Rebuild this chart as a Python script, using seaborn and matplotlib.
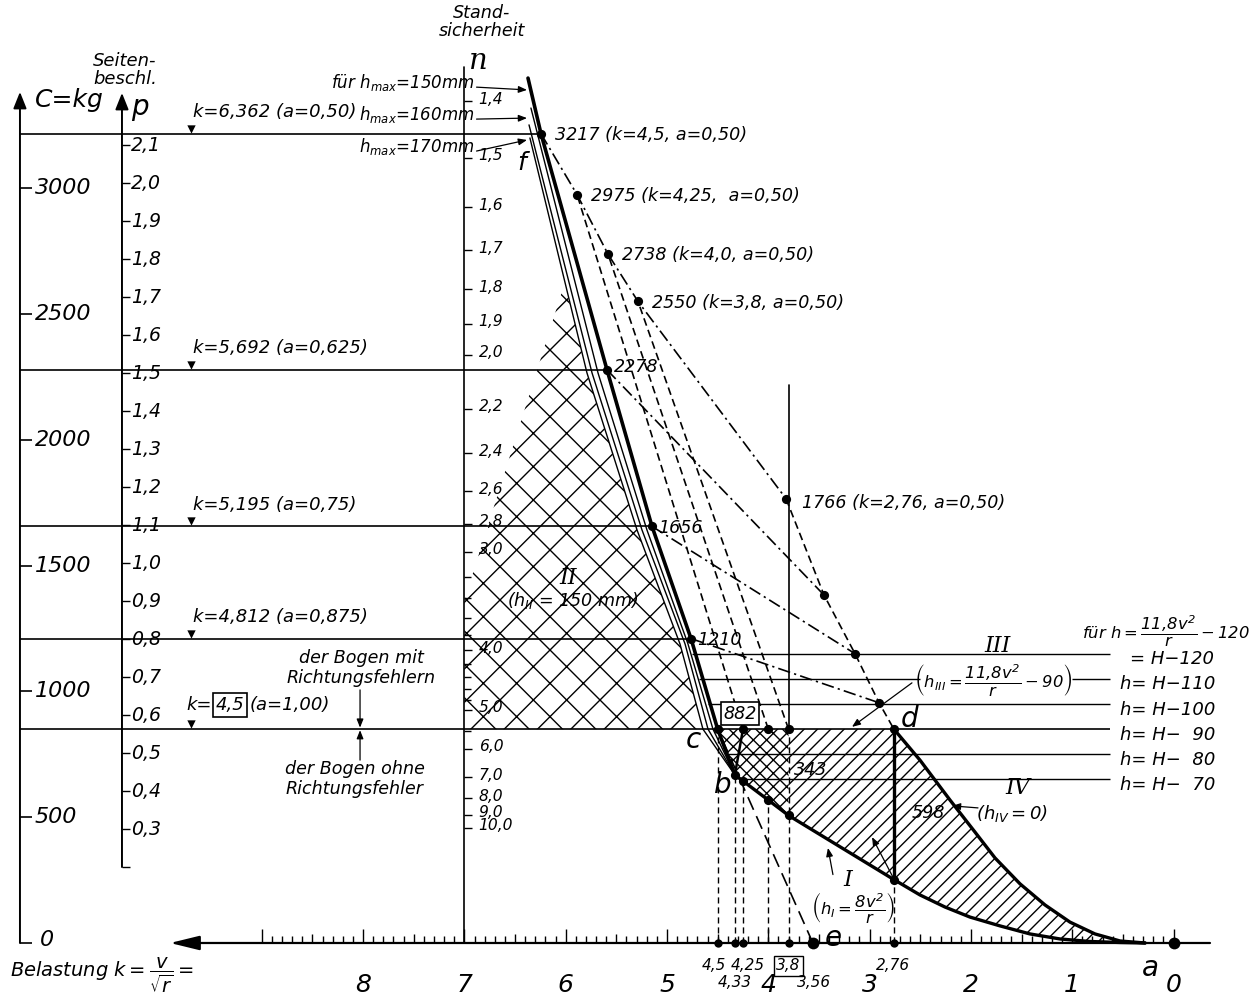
import numpy as np
import pandas as pd
import seaborn as sns
import matplotlib.pyplot as plt

# nomogram: x = load k (reversed), y = force C in kg
C_ticks = [500, 1000, 1500, 2000, 2500, 3000]
p_ticks = [0.2, 0.3, 0.4, 0.5, 0.6, 0.7, 0.8, 0.9, 1.0, 1.1, 1.2, 1.3, 1.4,
           1.5, 1.6, 1.7, 1.8, 1.9, 2.0, 2.1]
p_to_C = 1510  # kg per unit of p
n_ticks = [1.4, 1.5, 1.6, 1.7, 1.8, 1.9, 2.0, 2.2, 2.4, 2.6, 2.8, 3.0,
           4.0, 5.0, 6.0, 7.0, 8.0, 9.0, 10.0]
n_minor = [3.2, 3.4, 3.6, 3.8, 4.2, 4.4, 4.6, 4.8, 5.5]
k_numbers = [8, 7, 6, 5, 4, 3, 2, 1, 0]

# horizontal lines k = ... (a = ...)
level_C = [3217, 2278, 1656, 1210, 850]
level_end = [6.244, 5.592, 5.148, 4.763, 0.63]
level_txt = ['6,362 (a=0,50)', '5,692 (a=0,625)', '5,195 (a=0,75)', '4,812 (a=0,875)']

# h_max lines
f_k = [6.372, 6.244, 5.592, 5.148, 4.763, 4.5, 4.33]
f_C = [3438, 3217, 2278, 1656, 1210, 850, 668]
f160_k = [6.343, 5.681, 5.198, 4.793, 4.546, 4.33]
f160_C = [3319, 2266, 1642, 1189, 850, 668]
f170_k = [6.362, 5.740, 5.247, 4.822, 4.595, 4.33]
f170_C = [3252, 2266, 1642, 1189, 850, 668]
fx_k = [6.353, 5.790, 5.296, 4.872, 4.645, 4.33]
fx_C = [3200, 2266, 1642, 1189, 850, 668]

# curve a = 0.50
a50_k = [6.244, 5.888, 5.582, 5.286, 3.825]
a50_C = [3217, 2975, 2738, 2550, 1766]
a50_txt = ['3217 (k=4,5, a=0,50)', '2975 (k=4,25,  a=0,50)',
           '2738 (k=4,0, a=0,50)', '2550 (k=3,8, a=0,50)']
a50_low_k = [3.825, 3.450, 3.144, 2.907, 2.76]
a50_low_C = [1766, 1383, 1150, 955, 850]

# curve IV (h=0) and curve I (h=8v²/r)
IV_k = [2.76, 2.503, 2.206, 1.960, 1.762, 1.515, 1.268, 1.022, 0.775, 0.528, 0.281]
IV_C = [850, 727, 568, 441, 338, 235, 151, 83, 36, 8, 0]
I_k = [4.33, 4.25, 4.0, 3.8, 2.76, 2.503, 2.256, 2.009, 1.713, 1.417, 1.12,
       0.824, 0.528, 0.281]
I_C = [668, 644, 568, 507, 252, 191, 143, 103, 68, 36, 16, 6, 2, 0]

# h = H - ... lines
h_lab_C = [1150, 1050, 950, 850, 750, 650]
h_txt = ['= H−120', 'h= H−110', 'h= H−100', 'h= H−  90', 'h= H−  80', 'h= H−  70']

# hatched regions
II_k = [6.01, 5.79, 5.296, 4.872, 4.645, 7.0, 7.0]
II_C = [2624, 2266, 1642, 1189, 850, 850, 1363]
X_k = [4.5, 3.8, 3.8, 4.0, 4.25, 4.33]
X_C = [850, 850, 507, 568, 644, 668]

# points on the k axis
drop_k = [4.5, 4.33, 4.25, 4.0, 3.8, 2.76]
drop_C = [850, 668, 644, 568, 850, 252]
base_dots = [4.5, 4.33, 4.25, 3.8, 2.76, 0.0]
base_lab = ['4,5', '4,33', '4,25', '3,8', '3,56', '2,76']
base_lab_k = [4.54, 4.33, 4.20, 3.80, 3.55, 2.77]
base_lab_C = [-91, -159, -91, -91, -159, -91]
e_k = 3.56

sns.set_style('white')
plt.rcParams['font.family'] = ['DejaVu Sans']
plt.rcParams['font.style'] = 'italic'
plt.rcParams['text.color'] = 'black'
plt.rcParams['mathtext.fontset'] = 'dejavusans'
plt.rcParams['mathtext.default'] = 'it'
plt.rcParams['lines.scale_dashes'] = False
plt.rcParams['hatch.linewidth'] = 0.5
plt.rcParams['hatch.color'] = 'black'

fig = plt.figure(figsize=(6.285, 5), dpi=200)
ax = fig.add_axes([0, 0, 1, 1])
ax.set_xlim(11.584, -0.824)
ax.set_ylim(-226.6, 3748.4)
ax.axis('off')

K_C, K_P, K_N = 11.387, 10.38, 7.0
DASH = (0, (2.8, 1.6))
DASHDOT = (0, (4.5, 1.5, 0.8, 1.5))
head = dict(color='k', lw=0.7, shrinkA=0, shrinkB=0,
            arrowstyle='-|>,head_length=0.5,head_width=0.2', mutation_scale=10)
small = dict(color='k', lw=0.45, shrinkA=0, shrinkB=0,
             arrowstyle='-|>,head_length=0.5,head_width=0.2', mutation_scale=5)


def n_pos(n):
    return 4700.0 / n - 12


# ---- C scale
ax.annotate('', xy=(K_C, 3383), xytext=(K_C, 0), arrowprops=head)
ax.hlines(C_ticks + [0], K_C, K_C - 0.12, color='k', lw=0.6)
for c in C_ticks:
    ax.text(11.24, c, str(c), fontsize=8, va='center', ha='left')
ax.text(11.19, 10, '0', fontsize=8, va='center', ha='left')
ax.text(11.24, 3351, 'C=kg', fontsize=9, va='center', ha='left')

# ---- p scale
ax.annotate('', xy=(K_P, 3379), xytext=(K_P, 0.2 * p_to_C), arrowprops=head)
ax.hlines([p * p_to_C for p in p_ticks], K_P, K_P - 0.08, color='k', lw=0.5)
for p in p_ticks[1:]:
    ax.text(10.29, p * p_to_C, f'{p:.1f}'.replace('.', ','), fontsize=6.8,
            va='center', ha='left')
ax.text(10.35, 3470, 'Seiten-\nbeschl.', fontsize=6.5, ha='center', va='center',
        linespacing=1.0)
ax.text(10.2, 3323, 'p', fontsize=10, ha='center', va='center')

# ---- n scale
ax.plot([K_N, K_N], [0, 3482], color='k', lw=0.6)
ax.hlines([n_pos(n) for n in n_ticks], K_N, K_N - 0.08, color='k', lw=0.5)
ax.hlines([n_pos(n) for n in n_minor], K_N, K_N - 0.07, color='k', lw=0.5)
for n in n_ticks:
    ax.text(6.86, n_pos(n) + 8, f'{n:.1f}'.replace('.', ','), fontsize=5.6,
            va='center', ha='left')
ax.text(6.826, 3660, 'Stand-\nsicherheit', fontsize=6.3, ha='center', va='center',
        linespacing=1.0)
ax.text(6.866, 3505, 'n', fontsize=10.5, ha='center', va='center', family='DejaVu Serif')

# ---- k axis
ax.annotate('', xy=(9.905, 0), xytext=(-0.36, 0),
            arrowprops=dict(color='k', lw=0.8, shrinkA=0, shrinkB=0,
                            arrowstyle='-|>,head_length=0.9,head_width=0.22',
                            mutation_scale=10))
kt = np.round(np.arange(0, 9.001, 0.1), 1)
kt_h = np.where(np.isclose(kt % 1, 0), 56, np.where(np.isclose(kt % 1, 0.5), 36, 26))
ax.vlines(kt, 0, kt_h, color='k', lw=0.5)
for kn in k_numbers:
    ax.text(kn, -165, str(kn), fontsize=9, ha='center', va='center')
ax.text(11.49, -130, r'Belastung $k=\dfrac{v}{\sqrt{r}}=$', fontsize=7, ha='left',
        va='center')
for lab, kk, cc in zip(base_lab, base_lab_k, base_lab_C):
    box = dict(boxstyle='square,pad=0.15', fc='white', ec='k', lw=0.5) if lab == '3,8' else None
    ax.text(kk, cc, lab, fontsize=5.5, ha='center', va='center', bbox=box)

# ---- level lines with triangles
ax.hlines(level_C, K_C, level_end, color='k', lw=0.6)
ax.scatter([9.70] * len(level_C), np.array(level_C) + 20, marker='v', s=9, c='k', lw=0)
for txt, c in zip(level_txt, level_C):
    ax.text(9.68, c + 86, 'k=' + txt, fontsize=6.5, ha='left', va='center')
ax.text(9.74, 946, 'k=', fontsize=6.5, ha='left', va='center')
ax.text(9.31, 946, '4,5', fontsize=6.5, ha='center', va='center',
        bbox=dict(boxstyle='square,pad=0.15', fc='white', ec='k', lw=0.6))
ax.text(9.12, 946, '(a=1,00)', fontsize=6.5, ha='left', va='center')

# Bogen notes
ax.text(8.02, 1093, 'der Bogen mit\nRichtungsfehlern', fontsize=6.3, ha='center',
        va='center', linespacing=1.1)
ax.text(8.08, 652, 'der Bogen ohne\nRichtungsfehler', fontsize=6.3, ha='center',
        va='center', linespacing=1.1)
ax.annotate('', xy=(8.03, 856), xytext=(8.03, 1006), arrowprops=small)
ax.annotate('', xy=(8.03, 846), xytext=(8.03, 727), arrowprops=small)

# ---- hatched regions
ax.fill(II_k, II_C, facecolor='none', edgecolor='k', hatch='xx', lw=0)
ax.fill(X_k, X_C, facecolor='none', edgecolor='k', hatch='xxxxx', lw=0)
S_k = [3.8] + IV_k + I_k[3:][::-1]
S_C = [850] + IV_C + I_C[3:][::-1]
ax.fill(S_k, S_C, facecolor='none', edgecolor='k', hatch='/////', lw=0)

# ---- h_max lines
sns.lineplot(x=f_k, y=f_C, sort=False, estimator=None, color='k', lw=1.3, ax=ax)
for kk, cc in [(f160_k, f160_C), (f170_k, f170_C), (fx_k, fx_C)]:
    sns.lineplot(x=kk, y=cc, sort=False, estimator=None, color='k', lw=0.5, ax=ax)
for txt, c0, c1 in [(r'für $h_{max}$=150mm', 3422, 3391),
                    (r'$h_{max}$=160mm', 3295, 3279),
                    (r'$h_{max}$=170mm', 3168, 3192)]:
    ax.text(6.9, c0, txt, fontsize=6, ha='right', va='center')
    ax.annotate('', xy=(6.382, c1), xytext=(6.88, c0 - 20), arrowprops=small)
ax.text(6.431, 3100, 'f', fontsize=9, ha='center', va='center')

# ---- a = 0.50 curve and its connectors
ax.plot(a50_k, a50_C, color='k', lw=0.6, ls=DASHDOT)
ax.plot(a50_low_k, a50_low_C, color='k', lw=0.6, ls=DASH)
for i, kk in enumerate([4.25, 4.0, 3.8]):
    ax.plot([kk, a50_k[i + 1]], [850, a50_C[i + 1]], color='k', lw=0.6, ls=DASH)
for i in range(3):
    ax.plot([f_k[i + 2], a50_low_k[i + 1]], [f_C[i + 2], a50_low_C[i + 1]],
            color='k', lw=0.6, ls=DASHDOT)
for txt, kk, cc in zip(a50_txt, a50_k, a50_C):
    ax.text(kk - 0.14, cc - 5, txt, fontsize=6.3, ha='left', va='center')
ax.text(5.523, 2290, '2278', fontsize=6.3, ha='left', va='center')
ax.text(5.089, 1650, '1656', fontsize=6.3, ha='left', va='center')
ax.text(4.704, 1204, '1210', fontsize=6.3, ha='left', va='center')
ax.text(3.667, 1749, '1766 (k=2,76, a=0,50)', fontsize=6.3, ha='left', va='center')

# ---- curves I and IV
sns.lineplot(x=IV_k, y=IV_C, sort=False, estimator=None, color='k', lw=1.2, ax=ax)
sns.lineplot(x=I_k, y=I_C, sort=False, estimator=None, color='k', lw=1.2, ax=ax)
ax.plot([2.76, 2.76], [850, 252], color='k', lw=1.2)
ax.plot([4.25, 4.33], [850, 668], color='k', lw=0.9)
ax.plot([3.8, 3.8], [2218, 850], color='k', lw=0.6)
ax.vlines(drop_k, 0, drop_C, color='k', lw=0.5, linestyles=[(0, (2.2, 1.4))])
ax.plot([e_k, 4.5], [0, 850], color='k', lw=0.6, ls=(0, (5, 2.5)))

# ---- H lines
ax.hlines([1150, 950, 750, 650], [4.75, 4.6, 4.42, 4.25], 0.63, color='k', lw=0.5)
ax.hlines([1050, 1050], [4.68, 1.0], [2.5, 0.63], color='k', lw=0.5)
for txt, c in zip(h_txt, h_lab_C):
    ax.text(0.43 if txt.startswith('=') else 0.53, c - 22, txt, fontsize=6.5,
            ha='left', va='center')
ax.text(0.90, 1240, r'für $h=\dfrac{11{,}8v^2}{r}-120$', fontsize=5.9, ha='left',
        va='center')

# ---- dots
dot_k = a50_k + [5.592, 5.148, 4.763] + a50_low_k[1:] + [4.5, 4.25, 4.0, 3.8] + I_k[:5]
dot_C = a50_C + [2278, 1656, 1210] + a50_low_C[1:] + [850, 850, 850, 850] + I_C[:5]
sns.scatterplot(x=dot_k, y=dot_C, color='k', s=11, lw=0, ax=ax, legend=False)
sns.scatterplot(x=base_dots, y=[0] * len(base_dots), color='k', s=9, lw=0, ax=ax,
                legend=False)
ax.scatter([e_k, 0.0], [0, 0], c='k', s=18, lw=0)

# ---- letters and labels
ax.text(4.28, 912, '882', fontsize=6.3, ha='center', va='center',
        bbox=dict(boxstyle='square,pad=0.15', fc='white', ec='k', lw=0.6))
ax.text(3.578, 688, '343', fontsize=6.3, ha='center', va='center')
ax.text(2.423, 517, '598', fontsize=6.3, ha='center', va='center')
for t, kk, cc in [('c', 4.744, 807), ('b', 4.447, 628), ('d', 2.602, 890),
                  ('e', 3.36, 18), ('a', 0.232, -99)]:
    ax.text(kk, cc, t, fontsize=10, ha='center', va='center')
serif = dict(family='DejaVu Serif', fontsize=8, ha='center', va='center')
ax.text(5.977, 1451, 'II', **serif)
ax.text(5.927, 1363, r'($h_{II}$ = 150 mm)', fontsize=6.3, ha='center', va='center')
ax.text(1.733, 1180, 'III', **serif)
ax.text(1.782, 1045, r'$\left(h_{III}=\dfrac{11{,}8v^2}{r}-90\right)$', fontsize=5.9,
        ha='center', va='center')
ax.annotate('', xy=(3.174, 859), xytext=(2.582, 1034), arrowprops=small)
ax.text(1.535, 618, 'IV', **serif)
ax.text(1.594, 515, r'$(h_{IV}=0)$', fontsize=6.5, ha='center', va='center')
ax.annotate('', xy=(2.187, 545), xytext=(1.93, 537), arrowprops=small)
ax.text(3.213, 252, 'I', **serif)
ax.text(3.17, 140, r'$\left(h_I=\dfrac{8v^2}{r}\right)$', fontsize=5.9, ha='center',
        va='center')
ax.annotate('', xy=(3.411, 378), xytext=(3.362, 272), arrowprops=small)
ax.annotate('', xy=(2.976, 421), xytext=(2.77, 262), arrowprops=small)

fig.savefig('out.png', dpi=200, facecolor='white')
